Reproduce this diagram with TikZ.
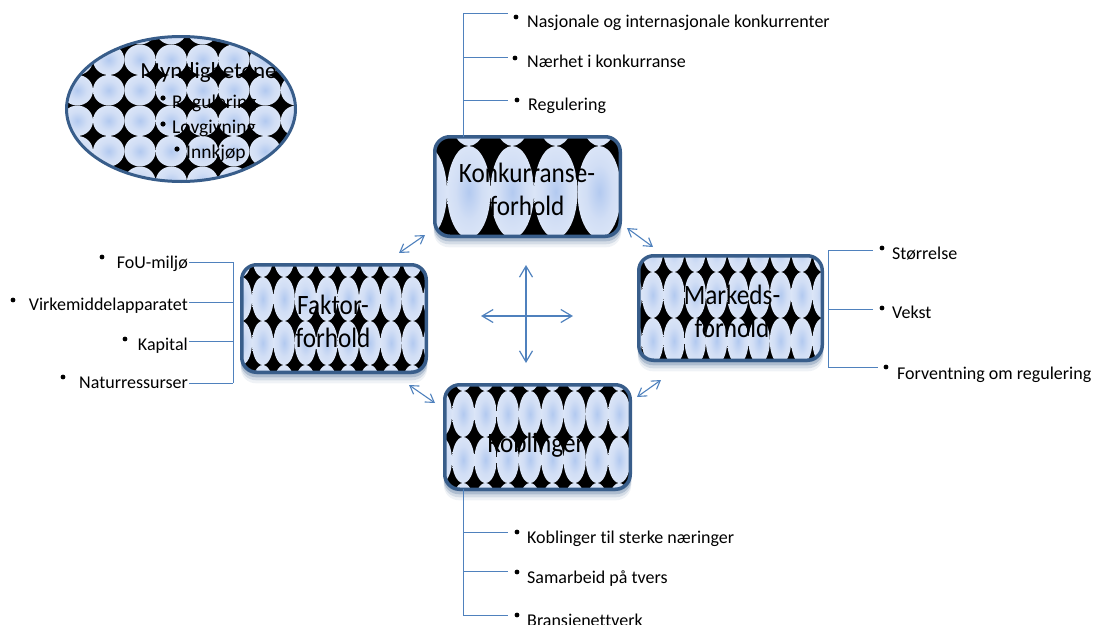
\documentclass[tikz,border=0pt]{standalone}
\usepackage{fontspec}
\setmainfont[Ligatures=NoCommon]{Carlito}
\newfontfamily\boxfont[FakeStretch=0.9,Ligatures=NoCommon]{Carlito}
\usetikzlibrary{arrows.meta,shapes.geometric}
\definecolor{bordc}{HTML}{385D8A}
\definecolor{linec}{HTML}{4F81BD}
\pgfdeclarelayer{shadow}
\pgfdeclarelayer{bg}
\pgfsetlayers{shadow,bg,main}
\pgfdeclareradialshading{ellsh}{\pgfpoint{0bp}{0bp}}{rgb(0bp)=(0.70,0.79,0.94);rgb(15bp)=(0.82,0.87,0.96);rgb(50bp)=(0.94,0.96,0.99)}
\newcommand\ellgrid[6]{%
  \foreach \i in {0,...,#5}{\foreach \j in {0,...,#6}{%
    \shade[shading=ellsh] ({#1+\i*#3},{#2+\j*#4}) ellipse [x radius=#3*0.5pt, y radius=#4*0.5pt];
  }}}
\newcommand\boxpat[7]{%
  \begin{pgfonlayer}{bg}
    \begin{scope}
      \clip[rounded corners=15pt] (#1.north west) rectangle (#1.south east);
      \fill[black] (#1.north west) rectangle (#1.south east);
      \ellgrid{#2}{#3}{#4}{#5}{#6}{#7}
    \end{scope}
  \end{pgfonlayer}
  \begin{pgfonlayer}{shadow}
    \foreach \d/\o in {2/0.35,5/0.25,8/0.15,11/0.08}{
      \fill[bordc, opacity=\o, rounded corners=15pt] ([xshift=-1pt,yshift=-\d pt]#1.north west) rectangle ([xshift=1pt,yshift=-\d pt]#1.south east);}
  \end{pgfonlayer}}
\tikzset{
  pbox/.style={draw=bordc, line width=3.5pt, rounded corners=15pt, inner sep=0pt, outer sep=0pt},
  blabel/.style={font=\boxfont\fontsize{28}{33}\selectfont, align=center, inner sep=0pt},
  lt/.style={font=\fontsize{18}{20}\selectfont, inner sep=0pt},
  et/.style={font=\fontsize{19.5}{22}\selectfont, inner sep=0pt},
  lst/.style={draw=linec, line width=0.9pt},
  bul/.style={fill=black},
  arr/.style={draw=linec, line width=1.1pt, {Straight Barb[length=8pt,width=10pt]}-{Straight Barb[length=8pt,width=10pt]}},
  arrbig/.style={draw=linec, line width=1.2pt, {Straight Barb[length=11pt,width=13pt]}-{Straight Barb[length=11pt,width=13pt]}}
}
\begin{document}
\begin{tikzpicture}[x=1pt,y=-1pt]
\useasboundingbox (0,0) rectangle (1094,624);

% ---------- main boxes ----------
\node[pbox, minimum width=185.5pt, minimum height=99.5pt] (konk) at (527.5,186.5) {};
\boxpat{konk}{425.25}{100}{43.5}{92}{5}{2}
\node[pbox, minimum width=184.5pt, minimum height=107.5pt] (fak) at (334,318.5) {};
\boxpat{fak}{241.3}{255}{21.4}{44}{9}{3}
\node[pbox, minimum width=183.5pt, minimum height=104.5pt] (mark) at (730.5,308) {};
\boxpat{mark}{631.35}{249}{21.3}{46}{9}{3}
\node[pbox, minimum width=185.5pt, minimum height=104.5pt] (kob) at (537.5,437) {};
\boxpat{kob}{440.85}{368}{22.3}{46}{9}{3}

\node[blabel] (konkT) at (527,189) {Konkurranse-\\forhold};
\node[blabel] (fakT) at (333,321) {Faktor-\\forhold};
\node[blabel] (markT) at (732,311) {Markeds-\\forhold};
\node[blabel] (kobT) at (536,445) {Koblinger};

% ---------- ellipse ----------
\node[ellipse, draw=bordc, line width=3pt, minimum width=229pt, minimum height=145pt, inner sep=0pt, outer sep=0pt] (myn) at (181,109) {};
\begin{pgfonlayer}{bg}
  \begin{scope}
    \clip (myn.center) ellipse [x radius=114.5pt, y radius=72.5pt];
    \fill[black] (myn.center) ellipse [x radius=114.5pt, y radius=72.5pt];
    \ellgrid{46.05}{29.25}{31.3}{30.5}{9}{6}
  \end{scope}
\end{pgfonlayer}
\node[anchor=base, font=\fontsize{23}{26}\selectfont, inner sep=0pt] (mynT) at (208.5,78) {Myndighetene};
\fill[bul] (163,98) circle [radius=2.6pt];
\node[et, anchor=base west] (m1) at (172,108) {Regulering};
\fill[bul] (163,124) circle [radius=2.6pt];
\node[et, anchor=base west] (m2) at (172,133) {Lovgivning};
\fill[bul] (177,149) circle [radius=2.6pt];
\node[et, anchor=base west] (m3) at (186,158) {Innkjøp};

% ---------- arrows ----------
\coordinate (a1) at (399,253); \coordinate (a2) at (425,235);
\coordinate (b1) at (627,228); \coordinate (b2) at (653,247);
\coordinate (c1) at (409,385); \coordinate (c2) at (435,403);
\coordinate (d1) at (637,397); \coordinate (d2) at (661,380);
\coordinate (v1) at (526,265); \coordinate (v2) at (526,363);
\coordinate (h1) at (481,316); \coordinate (h2) at (573,316);
\draw[arr] (a1) -- (a2);
\draw[arr] (b1) -- (b2);
\draw[arr] (c1) -- (c2);
\draw[arr] (d1) -- (d2);
\draw[arrbig] (v1) -- (v2);
\draw[arrbig] (h1) -- (h2);

% ---------- top list ----------
\coordinate (tTop) at (463,13);
\coordinate (tb1) at (508,13); \coordinate (tb2) at (508,57); \coordinate (tb3) at (508,100);
\draw[lst] (tTop) -- (tTop |- konk.north);
\draw[lst] (tb1 -| tTop) -- (tb1);
\draw[lst] (tb2 -| tTop) -- (tb2);
\draw[lst] (tb3 -| tTop) -- (tb3);
\fill[bul] (516,17) circle [radius=2.4pt];
\fill[bul] (515,58) circle [radius=2.4pt];
\fill[bul] (517,100) circle [radius=2.4pt];
\node[lt, anchor=base west] (t1) at (527,27) {Nasjonale og internasjonale konkurrenter};
\node[lt, anchor=base west] (t2) at (527,67) {Nærhet i konkurranse};
\node[lt, anchor=base west] (t3) at (528,110) {Regulering};

% ---------- left list ----------
\coordinate (lTop) at (233,262); \coordinate (lBot) at (233,383);
\coordinate (lb1) at (189,262); \coordinate (lb2) at (189,302);
\coordinate (lb3) at (189,341); \coordinate (lb4) at (189,383);
\draw[lst] (lTop) -- (lBot);
\draw[lst] (lb1) -- (lb1 -| lTop);
\draw[lst] (lb2) -- (lb2 -| lTop);
\draw[lst] (lb3) -- (lb3 -| lTop);
\draw[lst] (lb4) -- (lb4 -| lTop);
\fill[bul] (102,257) circle [radius=2.4pt];
\fill[bul] (13,300) circle [radius=2.4pt];
\fill[bul] (125,339) circle [radius=2.4pt];
\fill[bul] (63,377) circle [radius=2.4pt];
\node[lt, anchor=base east] (l1) at (188,268) {FoU-miljø};
\node[lt, anchor=base east] (l2) at (188,310) {Virkemiddelapparatet};
\node[lt, anchor=base east] (l3) at (188,350) {Kapital};
\node[lt, anchor=base east] (l4) at (188,388) {Naturressurser};

% ---------- right list ----------
\coordinate (rTop) at (828,250); \coordinate (rBot) at (828,367);
\coordinate (rb1) at (873,250); \coordinate (rb2) at (873,309); \coordinate (rb3) at (878,367);
\draw[lst] (rTop) -- (rBot);
\draw[lst] (rb1 -| rTop) -- (rb1);
\draw[lst] (rb2 -| rTop) -- (rb2);
\draw[lst] (rb3 -| rTop) -- (rb3);
\fill[bul] (882,248) circle [radius=2.4pt];
\fill[bul] (882,308) circle [radius=2.4pt];
\fill[bul] (886,367) circle [radius=2.4pt];
\node[lt, anchor=base west] (r1) at (892,259) {Størrelse};
\node[lt, anchor=base west] (r2) at (892,318) {Vekst};
\node[lt, anchor=base west] (r3) at (897,379) {Forventning om regulering};

% ---------- bottom list ----------
\coordinate (bBot) at (463,615);
\coordinate (bb1) at (508,532); \coordinate (bb2) at (508,571); \coordinate (bb3) at (508,615);
\draw[lst] (bBot |- kob.south) -- (bBot);
\draw[lst] (bb1 -| bBot) -- (bb1);
\draw[lst] (bb2 -| bBot) -- (bb2);
\draw[lst] (bb3 -| bBot) -- (bb3);
\fill[bul] (517,532) circle [radius=2.4pt];
\fill[bul] (517,572) circle [radius=2.4pt];
\fill[bul] (517,615) circle [radius=2.4pt];
\node[lt, anchor=base west] (k1) at (527,543) {Koblinger til sterke næringer};
\node[lt, anchor=base west] (k2) at (527,583) {Samarbeid på tvers};
\node[lt, anchor=base west] (k3) at (527,626) {Bransjenettverk};
\end{tikzpicture}
\end{document}
